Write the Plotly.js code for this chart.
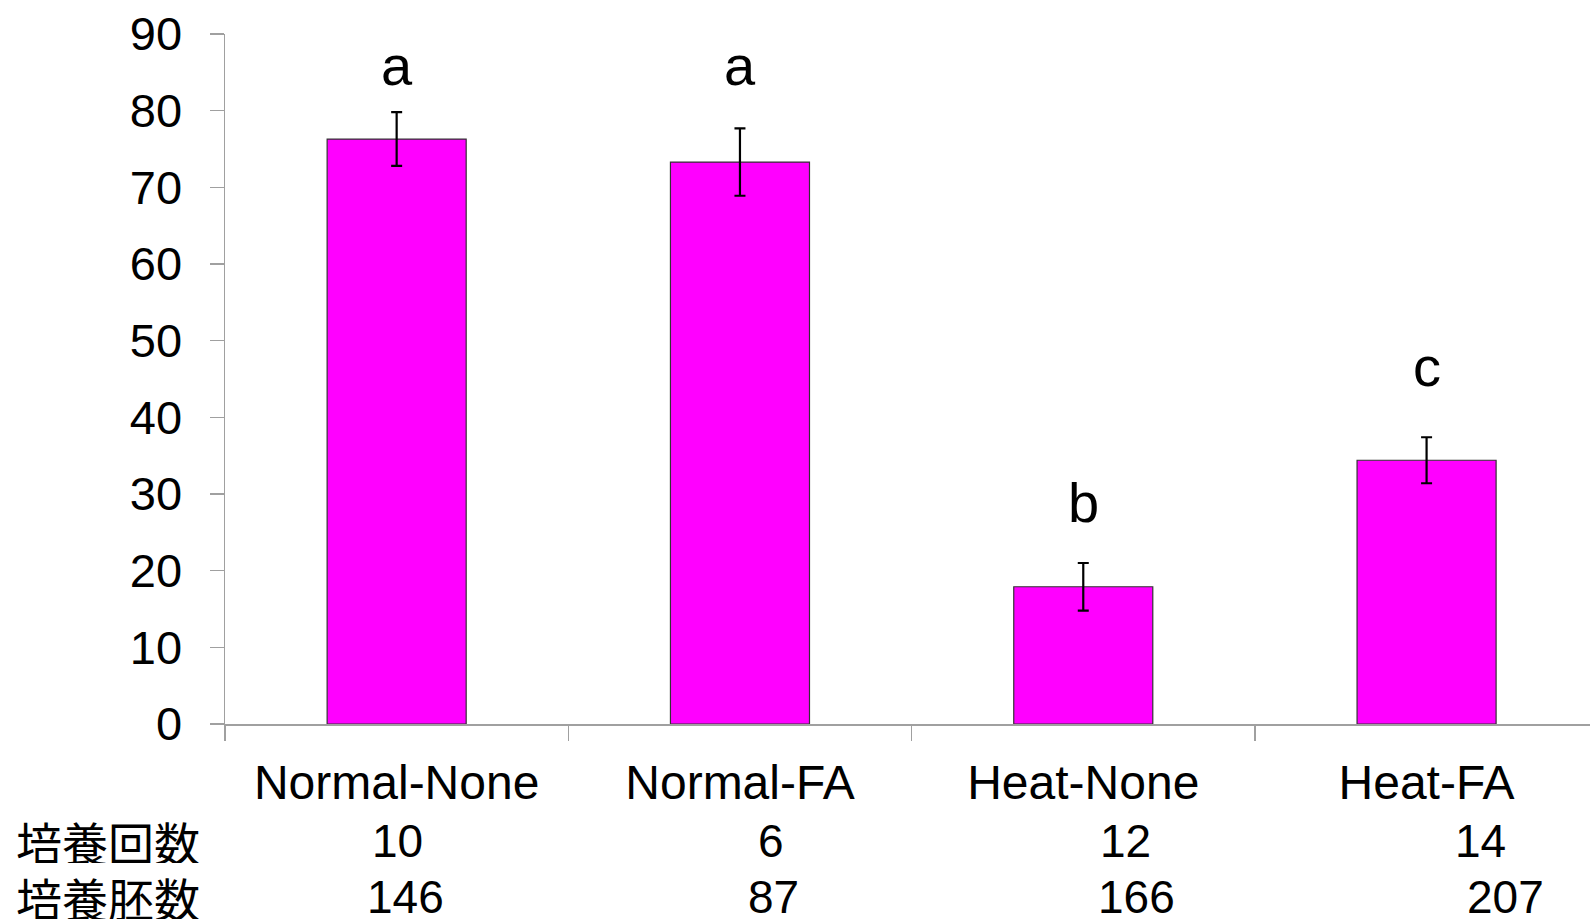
<!DOCTYPE html>
<html>
<head>
<meta charset="utf-8">
<script src="https://cdn.plot.ly/plotly-3.0.1.min.js"></script>
<style>html,body{margin:0;padding:0;background:#fff;}#chart{width:1590px;height:920px;}</style>
</head>
<body>
<div id="chart"></div>
<script>
// ---- data ----
const categories = ["Normal-None", "Normal-FA", "Heat-None", "Heat-FA"];
const rates = [76.3, 73.3, 17.9, 34.4];
const errors = [3.5, 4.4, 3.1, 3.0];
const sigLetters = ["a", "a", "b", "c"];
const sigLetterY = [83.1, 83.1, 26.1, 43.8];
const rowLabels = ["培養回数", "培養胚数"];
const cultureCounts = [10, 6, 12, 14];
const embryoCounts = [146, 87, 166, 207];

// ---- style / positions ----
const FONT = "Liberation Sans, Arial, sans-serif";
const CJK = "Noto Sans CJK JP, sans-serif";
const row1Shift = [1, 31, 42, 54];
const row2Shift = [9, 34, 53, 79];
const ROW_Y = [-0.170, -0.2504];

const trace = {
  type: "bar",
  x: categories,
  y: rates,
  width: 0.405,
  marker: {color: "#FF00FF", line: {color: "#333333", width: 1.2}},
  error_y: {type: "data", array: errors, visible: true, color: "#000000", thickness: 2.2, width: 5.5},
  hoverinfo: "skip"
};

const annotations = [];
categories.forEach((c, i) => {
  annotations.push({x: c, y: sigLetterY[i], xref: "x", yref: "y", text: sigLetters[i],
    showarrow: false, xanchor: "center", yanchor: "bottom", yshift: -12,
    font: {family: FONT, size: 56, color: "#000"}});
  annotations.push({x: c, y: ROW_Y[0], xref: "x", yref: "paper", text: String(cultureCounts[i]),
    showarrow: false, xanchor: "center", yanchor: "middle", xshift: row1Shift[i], height: 44,
    font: {family: FONT, size: 46, color: "#000"}});
  annotations.push({x: c, y: ROW_Y[1], xref: "x", yref: "paper", text: String(embryoCounts[i]),
    showarrow: false, xanchor: "center", yanchor: "middle", xshift: row2Shift[i], height: 44,
    font: {family: FONT, size: 46, color: "#000"}});
});
rowLabels.forEach((t, j) => {
  annotations.push({x: -0.1546, y: ROW_Y[j], xref: "paper", yref: "paper", text: t,
    showarrow: false, xanchor: "left", yanchor: "middle", height: 44,
    font: {family: CJK, size: 46, color: "#000"}});
});

const layout = {
  width: 1590, height: 920,
  margin: {l: 225, r: 0, t: 33.7, b: 195.5},
  paper_bgcolor: "#fff", plot_bgcolor: "#fff",
  showlegend: false,
  xaxis: {
    type: "category", range: [-0.5, 3.476],
    showline: true, linecolor: "#a0a0a0", linewidth: 1.5,
    ticks: "outside", tickson: "boundaries", ticklen: 15, tickcolor: "#a0a0a0", tickwidth: 1.5,
    showgrid: false, zeroline: false,
    ticklabelstandoff: 16,
    tickfont: {family: FONT, size: 48, color: "#000"}
  },
  yaxis: {
    range: [0, 90], dtick: 10, tick0: 0,
    showline: true, linecolor: "#a0a0a0", linewidth: 1.5,
    ticks: "outside", ticklen: 14, tickcolor: "#a0a0a0", tickwidth: 1.5,
    showgrid: false, zeroline: false,
    ticklabelstandoff: 18,
    tickfont: {family: FONT, size: 47, color: "#000"}
  },
  annotations: annotations
};

Plotly.newPlot("chart", [trace], layout, {displayModeBar: false, staticPlot: true});
</script>
</body>
</html>
